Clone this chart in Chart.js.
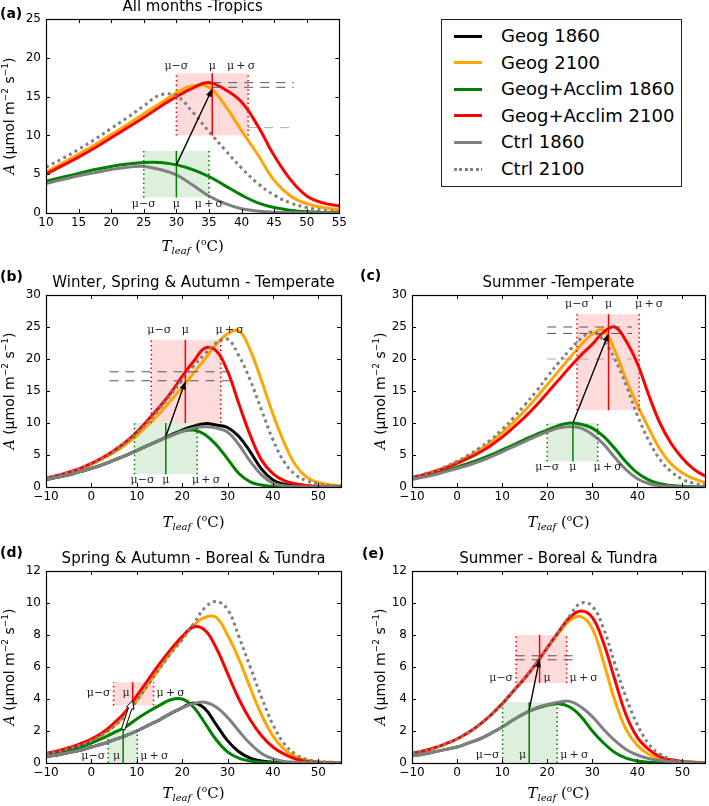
<!DOCTYPE html>
<html>
<head>
<meta charset="utf-8">
<script src="https://cdn.jsdelivr.net/npm/chart.js@4.4.0/dist/chart.umd.min.js"></script>
<style>
  body { margin: 0; background: #fff; }
  #page { position: relative; width: 709px; height: 806px; overflow: hidden; font-family: 'DejaVu Sans', sans-serif; }
  #page canvas { position: absolute; }
  #legend { position: absolute; left: 441px; top: 19px; width: 239px; height: 166px; border: 1px solid #222; }
  .row { position: absolute; left: 0; height: 26px; font-size: 18px; line-height: 26px; color: #000; }
  .sw { position: absolute; left: 12px; top: 11.5px; width: 28px; height: 3px; }
  .lbl { position: absolute; left: 59px; white-space: nowrap; }
</style>
</head>
<body>
<div id="page">
  <div id="legend"></div>
</div>
<script>
// series shown in every panel (same order as the legend)
const seriesKeys = ['geog1860', 'geog2100', 'acclim1860', 'acclim2100', 'ctrl1860', 'ctrl2100'];
const seriesNames = ['Geog 1860', 'Geog 2100', 'Geog+Acclim 1860', 'Geog+Acclim 2100', 'Ctrl 1860', 'Ctrl 2100'];
const seriesColors = ['#000000', '#ffa500', '#008000', '#ff0000', '#808080', '#808080'];

// ---- (a) All months - Tropics ----
const tA = [10, 12.5, 15, 17.5, 20, 22.5, 25, 27.5, 30, 32.5, 35, 37.5, 40, 42.5, 45, 47.5, 50, 52.5, 55];
const aGeog2100   = [5.3, 6.4, 7.6, 8.8, 10.1, 11.4, 12.8, 14.1, 15.5, 16.4, 16.2, 13.8, 10.6, 7.5, 4.2, 2.2, 1.2, 0.7, 0.4];
const aAcclim1860 = [4.1, 4.6, 5.1, 5.6, 6.0, 6.3, 6.5, 6.5, 6.2, 5.6, 4.7, 3.5, 2.3, 1.3, 0.7, 0.35, 0.15, 0.08, 0.05];
const aAcclim2100 = [5.0, 6.1, 7.2, 8.4, 9.7, 11.0, 12.3, 13.7, 15.0, 16.1, 16.8, 15.9, 14.3, 11.2, 7.4, 4.3, 2.2, 1.3, 0.9];
const aCtrl1860   = [3.8, 4.3, 4.8, 5.2, 5.6, 5.9, 6.0, 5.6, 4.9, 3.6, 2.2, 1.2, 0.55, 0.25, 0.1, 0.05, 0.02, 0.01, 0];
const aCtrl2100   = [5.9, 7.0, 8.2, 9.5, 10.9, 12.3, 13.8, 15.2, 15.1, 13.0, 10.5, 8.1, 5.8, 3.8, 2.3, 1.3, 0.7, 0.35, 0.15];
// boxes: [mu-sigma, mu, mu+sigma, box bottom, box top, A at mu]
const aBox1860 = [25, 30, 35, 2, 8, 6.2];
const aBox2100 = [30, 35.5, 41, 10, 18, 16.0];
// dashed reference lines: [A, from T, to T]
const aRefDark  = [[16.8, 35.5, 48], [16.2, 35.5, 48]];
const aRefLight = [[11.0, 41, 48]];

// ---- (b) Winter, Spring & Autumn - Temperate ----
const tB = [-10, -7.5, -5, -2.5, 0, 2.5, 5, 7.5, 10, 12.5, 15, 17.5, 20, 22.5, 25, 27.5, 30, 32.5, 35, 37.5, 40, 42.5, 45, 47.5, 50, 52.5, 55];
const bGeog1860   = [1.2, 1.5, 1.9, 2.4, 2.9, 3.5, 4.2, 4.9, 5.7, 6.5, 7.3, 8.1, 8.9, 9.5, 9.9, 9.7, 9.3, 7.9, 5.5, 2.8, 1.1, 0.45, 0.2, 0.1, 0.05, 0.02, 0];
const bGeog2100   = [1.3, 1.7, 2.2, 2.8, 3.5, 4.4, 5.4, 6.6, 8.0, 9.7, 11.5, 13.5, 15.6, 17.8, 20.0, 22.3, 23.9, 24.4, 21.4, 16.6, 11.4, 6.9, 3.4, 1.5, 0.7, 0.35, 0.2];
const bAcclim1860 = [1.2, 1.5, 1.9, 2.4, 2.9, 3.5, 4.2, 4.9, 5.7, 6.5, 7.3, 8.0, 8.7, 8.9, 8.2, 6.6, 4.4, 2.1, 0.8, 0.3, 0.1, 0.03, 0, 0, 0, 0, 0];
const bAcclim2100 = [1.4, 1.8, 2.3, 2.9, 3.7, 4.6, 5.7, 7.0, 8.6, 10.5, 12.5, 14.7, 17.3, 19.6, 21.7, 21.3, 18.1, 13.0, 8.1, 4.2, 2.1, 1.0, 0.5, 0.25, 0.1, 0.05, 0.02];
const bCtrl1860   = [1.2, 1.5, 1.9, 2.4, 2.9, 3.5, 4.2, 4.9, 5.7, 6.5, 7.3, 8.0, 8.7, 9.2, 9.4, 9.2, 8.6, 6.6, 4.0, 1.9, 0.6, 0.2, 0.05, 0.02, 0, 0, 0];
const bCtrl2100   = [1.4, 1.8, 2.3, 2.9, 3.6, 4.5, 5.6, 6.9, 8.4, 10.2, 12.2, 14.4, 16.7, 18.9, 20.8, 22.5, 23.1, 20.5, 16.7, 12.0, 7.4, 3.9, 1.9, 0.95, 0.5, 0.25, 0.1];
const bBox1860 = [9.5, 16.4, 23.3, 2, 10, 7.9];
const bBox2100 = [13.2, 20.7, 28.5, 10, 23, 16.5];
const bRefDark  = [[18.0, 4, 30.5], [16.6, 4, 30.5]];
const bRefLight = [];

// ---- (c) Summer - Temperate ----
const tC = tB;
const cGeog2100   = [1.5, 1.9, 2.5, 3.1, 3.9, 4.8, 5.8, 7.0, 8.5, 10.1, 11.9, 13.9, 16.0, 18.1, 20.2, 22.2, 23.9, 24.5, 21.3, 16.8, 12.8, 9.2, 5.9, 3.6, 2.2, 1.3, 0.7];
const cAcclim1860 = [1.3, 1.7, 2.1, 2.6, 3.1, 3.7, 4.3, 5.0, 5.8, 6.6, 7.4, 8.2, 8.9, 9.6, 10.0, 9.8, 9.2, 7.9, 6.0, 3.9, 2.2, 1.1, 0.5, 0.22, 0.1, 0.05, 0.02];
const cAcclim2100 = [1.5, 1.9, 2.4, 3.0, 3.7, 4.5, 5.4, 6.5, 7.8, 9.3, 10.9, 12.7, 14.7, 16.7, 18.7, 20.6, 22.3, 24.2, 25.0, 22.8, 19.3, 14.4, 10.0, 6.8, 4.5, 2.8, 1.7];
const cCtrl1860   = [1.2, 1.5, 1.9, 2.4, 2.9, 3.4, 4.0, 4.7, 5.5, 6.3, 7.1, 7.9, 8.6, 9.2, 9.4, 9.2, 8.2, 6.7, 4.6, 2.7, 1.3, 0.55, 0.2, 0.08, 0.03, 0.01, 0];
const cCtrl2100   = [1.5, 2.0, 2.5, 3.2, 4.0, 5.0, 6.1, 7.4, 9.0, 10.8, 12.8, 14.9, 17.2, 19.4, 21.4, 23.2, 24.2, 22.9, 20.0, 15.9, 11.2, 7.3, 4.3, 2.4, 1.2, 0.6, 0.3];
const cBox1860 = [20, 25.7, 31.2, 4, 10, 10.0];
const cBox2100 = [26.6, 33.6, 40.4, 12, 27, 24.0];
const cRefDark  = [[25.0, 20, 38.8], [24.0, 20, 38.8]];
const cRefLight = [[20.0, 20, 38.8]];

// ---- (d) Spring & Autumn - Boreal & Tundra ----
const tD = tB;
const dGeog1860   = [0.4, 0.5, 0.65, 0.8, 1.0, 1.2, 1.45, 1.7, 2.0, 2.35, 2.7, 3.1, 3.45, 3.75, 3.4, 2.4, 1.4, 0.7, 0.3, 0.12, 0.05, 0.02, 0, 0, 0, 0, 0];
const dGeog2100   = [0.55, 0.7, 0.9, 1.1, 1.4, 1.8, 2.3, 3.0, 3.9, 4.9, 5.9, 6.9, 7.8, 8.6, 9.1, 9.1, 8.0, 6.5, 4.7, 3.0, 1.7, 0.85, 0.4, 0.17, 0.07, 0.04, 0.02];
const dAcclim1860 = [0.5, 0.65, 0.8, 1.0, 1.25, 1.55, 1.9, 2.25, 2.75, 3.2, 3.6, 3.95, 4.0, 3.5, 2.5, 1.45, 0.7, 0.3, 0.12, 0.05, 0.02, 0, 0, 0, 0, 0, 0];
const dAcclim2100 = [0.6, 0.75, 0.95, 1.2, 1.5, 1.9, 2.5, 3.2, 4.2, 5.2, 6.2, 7.1, 7.9, 8.5, 8.3, 7.2, 5.6, 4.0, 2.7, 1.7, 1.0, 0.55, 0.25, 0.1, 0.05, 0.02, 0.01];
const dCtrl1860   = [0.4, 0.5, 0.65, 0.8, 1.0, 1.2, 1.45, 1.7, 2.0, 2.35, 2.7, 3.1, 3.45, 3.7, 3.8, 3.5, 2.85, 2.0, 1.2, 0.6, 0.27, 0.1, 0.05, 0.02, 0, 0, 0];
const dCtrl2100   = [0.55, 0.7, 0.9, 1.1, 1.4, 1.8, 2.3, 3.0, 3.9, 4.9, 5.9, 6.85, 7.7, 8.7, 9.7, 10.1, 9.6, 7.9, 6.0, 4.1, 2.4, 1.2, 0.55, 0.22, 0.1, 0.05, 0.03];
const dBox1860 = [3.7, 7.0, 10.1, 0, 2.1, 2.1];
const dBox2100 = [4.9, 9.1, 13.7, 3.6, 5.05, 3.9];

// ---- (e) Summer - Boreal & Tundra ----
const tE = tB;
const eGeog2100   = [0.6, 0.75, 0.95, 1.2, 1.5, 1.9, 2.4, 3.0, 3.7, 4.5, 5.3, 6.2, 7.2, 8.1, 8.9, 9.15, 8.4, 6.3, 3.9, 2.1, 1.1, 0.55, 0.3, 0.15, 0.08, 0.04, 0.02];
const eAcclim1860 = [0.45, 0.55, 0.7, 0.85, 1.0, 1.25, 1.5, 1.85, 2.25, 2.7, 3.1, 3.4, 3.6, 3.7, 3.5, 2.9, 2.0, 1.25, 0.65, 0.3, 0.12, 0.05, 0.02, 0, 0, 0, 0];
const eAcclim2100 = [0.6, 0.75, 0.95, 1.2, 1.5, 1.9, 2.4, 3.0, 3.7, 4.5, 5.3, 6.2, 7.2, 8.2, 9.1, 9.5, 9.1, 7.5, 5.2, 3.0, 1.6, 0.85, 0.4, 0.2, 0.1, 0.05, 0.03];
const eCtrl1860   = [0.45, 0.55, 0.7, 0.85, 1.0, 1.25, 1.5, 1.85, 2.25, 2.7, 3.1, 3.45, 3.65, 3.8, 3.85, 3.5, 2.9, 2.1, 1.4, 0.85, 0.5, 0.28, 0.15, 0.08, 0.03, 0.01, 0];
const eCtrl2100   = [0.6, 0.75, 0.95, 1.2, 1.5, 1.9, 2.4, 3.0, 3.7, 4.5, 5.3, 6.2, 7.2, 8.2, 9.2, 10.0, 9.8, 8.4, 6.2, 4.1, 2.4, 1.2, 0.55, 0.25, 0.1, 0.05, 0.03];
const eBox1860 = [10.1, 16.0, 22.2, 0, 3.8, 3.3];
const eBox2100 = [13.1, 18.3, 24.3, 5, 8, 6.5];
const eRefDark = [[6.7, 13, 27], [6.45, 13, 27]];

const panels = [
  { letter: '(a)', title: 'All months -Tropics', t: tA,
    curves: { geog2100: aGeog2100, acclim1860: aAcclim1860, acclim2100: aAcclim2100, ctrl1860: aCtrl1860, ctrl2100: aCtrl2100 },
    xMin: 10, xMax: 55, xStep: 5, yMax: 25, yStep: 5,
    green: aBox1860, red: aBox2100, refDark: aRefDark, refLight: aRefLight,
    box: [0, 0, 350, 262], yAxisW: 46, xAxisH: 49, padTop: 19, padRight: 9,
    letterXY: [0, 14.5], yLabX: 9, xLabDy: 38,
    labMode: 'center', labY: [1.2, 18.9], loDx: [0, 0], hiDx: [0, -7] },
  { letter: '(b)', title: 'Winter, Spring & Autumn - Temperate', t: tB,
    curves: { geog1860: bGeog1860, geog2100: bGeog2100, acclim1860: bAcclim1860, acclim2100: bAcclim2100, ctrl1860: bCtrl1860, ctrl2100: bCtrl2100 },
    xMin: -10, xMax: 55, xStep: 10, yMax: 30, yStep: 5,
    green: bBox1860, red: bBox2100, refDark: bRefDark, refLight: bRefLight,
    box: [0, 262, 350, 276], yAxisW: 46, xAxisH: 51, padTop: 33, padRight: 9,
    letterXY: [0, 15.5], yLabX: 9, xLabDy: 40,
    labMode: 'center', labY: [1.0, 24.5], loDx: [8, 8], hiDx: [9, 9] },
  { letter: '(c)', title: 'Summer -Temperate', t: tC,
    curves: { geog2100: cGeog2100, acclim1860: cAcclim1860, acclim2100: cAcclim2100, ctrl1860: cCtrl1860, ctrl2100: cCtrl2100 },
    xMin: -10, xMax: 55, xStep: 10, yMax: 30, yStep: 5,
    green: cBox1860, red: cBox2100, refDark: cRefDark, refLight: cRefLight,
    box: [355, 262, 354, 276], yAxisW: 57, xAxisH: 51, padTop: 33, padRight: 4,
    letterXY: [5, 14.5], yLabX: 25, xLabDy: 40,
    labMode: 'center', labY: [3.1, 28.5], loDx: [0, 0], hiDx: [10, 10] },
  { letter: '(d)', title: 'Spring & Autumn - Boreal & Tundra', t: tD,
    curves: { geog1860: dGeog1860, geog2100: dGeog2100, acclim1860: dAcclim1860, acclim2100: dAcclim2100, ctrl1860: dCtrl1860, ctrl2100: dCtrl2100 },
    xMin: -10, xMax: 55, xStep: 10, yMax: 12, yStep: 2,
    green: dBox1860, red: dBox2100, refDark: [], refLight: [], hollowArrow: true,
    box: [0, 538, 350, 268], yAxisW: 46, xAxisH: 43, padTop: 33, padRight: 9,
    letterXY: [0, 15.3], yLabX: 9, xLabDy: 35,
    labMode: 'side', labY: [0.45, 4.35], muRight: [false, false] },
  { letter: '(e)', title: 'Summer - Boreal & Tundra', t: tE,
    curves: { geog2100: eGeog2100, acclim1860: eAcclim1860, acclim2100: eAcclim2100, ctrl1860: eCtrl1860, ctrl2100: eCtrl2100 },
    xMin: -10, xMax: 55, xStep: 10, yMax: 12, yStep: 2,
    green: eBox1860, red: eBox2100, refDark: eRefDark, refLight: [],
    box: [355, 538, 354, 268], yAxisW: 57, xAxisH: 43, padTop: 33, padRight: 4,
    letterXY: [7, 16], yLabX: 25, xLabDy: 35,
    labMode: 'side', labY: [0.5, 5.3], muRight: [false, true] }
];

const SANS = "'DejaVu Sans', sans-serif";
const SERIF = "'DejaVu Serif', serif";

function drawMixed(ctx, parts, cx, baseY) {
  let w = 0;
  parts.forEach(p => { ctx.font = p.f; p.w = ctx.measureText(p.t).width; w += p.w; });
  let x = cx - w / 2;
  ctx.textAlign = 'left';
  ctx.textBaseline = 'alphabetic';
  parts.forEach(p => { ctx.font = p.f; ctx.fillText(p.t, x, baseY + (p.dy || 0)); x += p.w; });
}

function arrowPath(ctx, x0, y0, x1, y1, sw, hw, hl) {
  const dx = x1 - x0, dy = y1 - y0, L = Math.hypot(dx, dy);
  const ux = dx / L, uy = dy / L, nx = -uy, ny = ux;
  const bx = x1 - ux * hl, by = y1 - uy * hl;
  ctx.beginPath();
  ctx.moveTo(x0 + nx * sw / 2, y0 + ny * sw / 2);
  ctx.lineTo(bx + nx * sw / 2, by + ny * sw / 2);
  ctx.lineTo(bx + nx * hw / 2, by + ny * hw / 2);
  ctx.lineTo(x1, y1);
  ctx.lineTo(bx - nx * hw / 2, by - ny * hw / 2);
  ctx.lineTo(bx - nx * sw / 2, by - ny * sw / 2);
  ctx.lineTo(x0 - nx * sw / 2, y0 - ny * sw / 2);
  ctx.closePath();
}

// boxes, mu lines, arrow, labels, frame and inward ticks
function decor(p) {
  return {
    id: 'decor',
    beforeDatasetsDraw(chart) {
      const ctx = chart.ctx, xs = chart.scales.x, ys = chart.scales.y;
      const X = v => xs.getPixelForValue(v), Y = v => ys.getPixelForValue(v);
      ctx.save();
      [[p.green, 'rgba(0,128,0,0.13)'], [p.red, 'rgba(255,0,0,0.14)']].forEach(([b, c]) => {
        ctx.fillStyle = c;
        ctx.fillRect(X(b[0]), Y(b[4]), X(b[2]) - X(b[0]), Y(b[3]) - Y(b[4]));
      });
      ctx.restore();
    },
    afterDatasetsDraw(chart) {
      const ctx = chart.ctx, xs = chart.scales.x, ys = chart.scales.y, a = chart.chartArea;
      const X = v => xs.getPixelForValue(v), Y = v => ys.getPixelForValue(v);
      ctx.save();
      // dashed reference lines
      ctx.lineWidth = 1;
      ctx.setLineDash([9, 7]);
      [[p.refDark, '#555'], [p.refLight, '#aaa']].forEach(([list, c]) => {
        ctx.strokeStyle = c;
        list.forEach(r => {
          ctx.beginPath(); ctx.moveTo(X(r[1]), Y(r[0])); ctx.lineTo(X(r[2]), Y(r[0])); ctx.stroke();
        });
      });
      // box edges (dotted) and mu lines
      [[p.green, '#008000'], [p.red, '#ff0000']].forEach(([b, c]) => {
        ctx.strokeStyle = c;
        ctx.lineWidth = 1.5;
        ctx.setLineDash([1.5, 3]);
        [b[0], b[2]].forEach(v => {
          ctx.beginPath(); ctx.moveTo(X(v), Y(b[3])); ctx.lineTo(X(v), Y(b[4])); ctx.stroke();
        });
        ctx.setLineDash([]);
        ctx.beginPath(); ctx.moveTo(X(b[1]), Y(b[3])); ctx.lineTo(X(b[1]), Y(b[4])); ctx.stroke();
      });
      // arrow from acclimated 1860 to acclimated 2100
      const x0 = X(p.green[1]), y0 = Y(p.green[5]), x1 = X(p.red[1]), y1 = Y(p.red[5]);
      if (p.hollowArrow) {
        arrowPath(ctx, x0, y0, x1, y1, 3.5, 8, 8);
        ctx.fillStyle = '#fff'; ctx.fill();
        ctx.strokeStyle = '#000'; ctx.lineWidth = 1; ctx.stroke();
      } else {
        arrowPath(ctx, x0, y0, x1, y1, 1.4, 6, 8);
        ctx.fillStyle = '#000'; ctx.fill();
      }
      // mu / sigma labels
      ctx.font = '11px ' + SERIF;
      ctx.fillStyle = '#222';
      ctx.textBaseline = 'middle';
      const txt = ['\u03bc\u2212\u03c3', '\u03bc', '\u03bc\u2009+\u2009\u03c3'];
      [p.green, p.red].forEach((b, k) => {
        const ly = Y(p.labY[k]);
        if (p.labMode === 'center') {
          ctx.textAlign = 'center';
          ctx.fillText(txt[0], X(b[0]) + p.loDx[k], ly);
          ctx.fillText(txt[1], X(b[1]), ly);
          ctx.fillText(txt[2], X(b[2]) + p.hiDx[k], ly);
        } else {
          ctx.textAlign = 'right';
          ctx.fillText(txt[0], X(b[0]) - 3, ly);
          if (p.muRight[k]) { ctx.textAlign = 'left'; ctx.fillText(txt[1], X(b[1]) + 4, ly); }
          else { ctx.fillText(txt[1], X(b[1]) - 3, ly); }
          ctx.textAlign = 'left';
          ctx.fillText(txt[2], X(b[2]) + 3, ly);
        }
      });
      // frame
      ctx.strokeStyle = '#000';
      ctx.lineWidth = 1.2;
      ctx.strokeRect(Math.round(a.left) + 0.5, Math.round(a.top) + 0.5, Math.round(a.right - a.left), Math.round(a.bottom - a.top));
      // inward ticks on all four sides
      ctx.lineWidth = 1;
      ctx.beginPath();
      xs.ticks.forEach(t => {
        const x = Math.round(X(t.value)) + 0.5;
        ctx.moveTo(x, a.bottom); ctx.lineTo(x, a.bottom - 4);
        ctx.moveTo(x, a.top); ctx.lineTo(x, a.top + 4);
      });
      ys.ticks.forEach(t => {
        const y = Math.round(Y(t.value)) + 0.5;
        ctx.moveTo(a.left, y); ctx.lineTo(a.left + 4, y);
        ctx.moveTo(a.right, y); ctx.lineTo(a.right - 4, y);
      });
      ctx.stroke();
      ctx.restore();
    },
    afterDraw(chart) {
      const ctx = chart.ctx, a = chart.chartArea;
      ctx.save();
      ctx.fillStyle = '#000';
      // title
      ctx.font = '15px ' + SANS;
      ctx.textAlign = 'center';
      ctx.textBaseline = 'alphabetic';
      ctx.fillText(p.title, (a.left + a.right) / 2, a.top - 8);
      // panel letter
      ctx.font = 'bold 14px ' + SANS;
      ctx.textAlign = 'left';
      ctx.textBaseline = 'middle';
      ctx.fillText(p.letter, p.letterXY[0], p.letterXY[1]);
      // x label: T_leaf (oC)
      drawMixed(ctx, [
        { t: 'T', f: 'italic 15px ' + SERIF },
        { t: 'leaf', f: 'italic 10px ' + SERIF, dy: 3 },
        { t: ' (', f: '15px ' + SERIF },
        { t: 'o', f: '9px ' + SERIF, dy: -6 },
        { t: 'C)', f: '15px ' + SERIF }
      ], (a.left + a.right) / 2, a.bottom + p.xLabDy);
      // y label: A (umol m-2 s-1)
      ctx.translate(p.yLabX, (a.top + a.bottom) / 2);
      ctx.rotate(-Math.PI / 2);
      drawMixed(ctx, [
        { t: 'A', f: 'italic 14px ' + SERIF },
        { t: ' (\u03bcmol m', f: '14px ' + SANS },
        { t: '\u22122', f: '9px ' + SANS, dy: -6 },
        { t: ' s', f: '14px ' + SANS },
        { t: '\u22121', f: '9px ' + SANS, dy: -6 },
        { t: ')', f: '14px ' + SANS }
      ], 0, 5);
      ctx.restore();
    }
  };
}

const tickFont = { family: 'DejaVu Sans', size: 12 };
const fmt = v => (v < 0 ? '\u2212' + (-v) : String(v));

function makePanel(p) {
  const cv = document.createElement('canvas');
  cv.width = p.box[2];
  cv.height = p.box[3];
  cv.style.left = p.box[0] + 'px';
  cv.style.top = p.box[1] + 'px';
  cv.style.width = p.box[2] + 'px';
  cv.style.height = p.box[3] + 'px';
  document.getElementById('page').appendChild(cv);

  const datasets = [];
  seriesKeys.forEach((k, i) => {
    const vals = p.curves[k];
    if (!vals) return;
    datasets.push({
      label: seriesNames[i],
      data: p.t.map((t, j) => ({ x: t, y: vals[j] })),
      borderColor: seriesColors[i],
      borderWidth: 3,
      borderDash: k === 'ctrl2100' ? [3, 3.5] : [],
      pointRadius: 0,
      fill: false,
      tension: 0.4,
      order: seriesKeys.length - i,   // later series drawn on top
      clip: 0
    });
  });

  new Chart(cv, {
    type: 'line',
    data: { datasets },
    options: {
      responsive: false,
      animation: false,
      events: [],
      layout: { padding: { top: p.padTop, right: p.padRight, left: 0, bottom: 0 } },
      plugins: { legend: { display: false }, tooltip: { enabled: false }, title: { display: false } },
      scales: {
        x: {
          type: 'linear', min: p.xMin, max: p.xMax,
          grid: { display: false, drawTicks: false },
          border: { display: false },
          ticks: { stepSize: p.xStep, includeBounds: false, autoSkip: false, maxRotation: 0, padding: 3, font: tickFont, color: '#000', callback: fmt },
          afterFit: s => { s.height = p.xAxisH; }
        },
        y: {
          type: 'linear', min: 0, max: p.yMax,
          grid: { display: false, drawTicks: false },
          border: { display: false },
          ticks: { stepSize: p.yStep, autoSkip: false, padding: 5, font: tickFont, color: '#000', callback: fmt },
          afterFit: s => { s.width = p.yAxisW; }
        }
      }
    },
    plugins: [decor(p)]
  });
}

panels.forEach(makePanel);

// legend
const legend = document.getElementById('legend');
seriesNames.forEach((name, i) => {
  const row = document.createElement('div');
  row.className = 'row';
  row.style.top = (16 + i * 26.6 - 13) + 'px';
  const sw = document.createElement('div');
  sw.className = 'sw';
  if (seriesKeys[i] === 'ctrl2100') {
    sw.style.background = 'repeating-linear-gradient(90deg, ' + seriesColors[i] + ' 0 3px, transparent 3px 5.5px)';
  } else {
    sw.style.background = seriesColors[i];
  }
  const lbl = document.createElement('span');
  lbl.className = 'lbl';
  lbl.textContent = name;
  row.appendChild(sw);
  row.appendChild(lbl);
  legend.appendChild(row);
});
</script>
</body>
</html>
